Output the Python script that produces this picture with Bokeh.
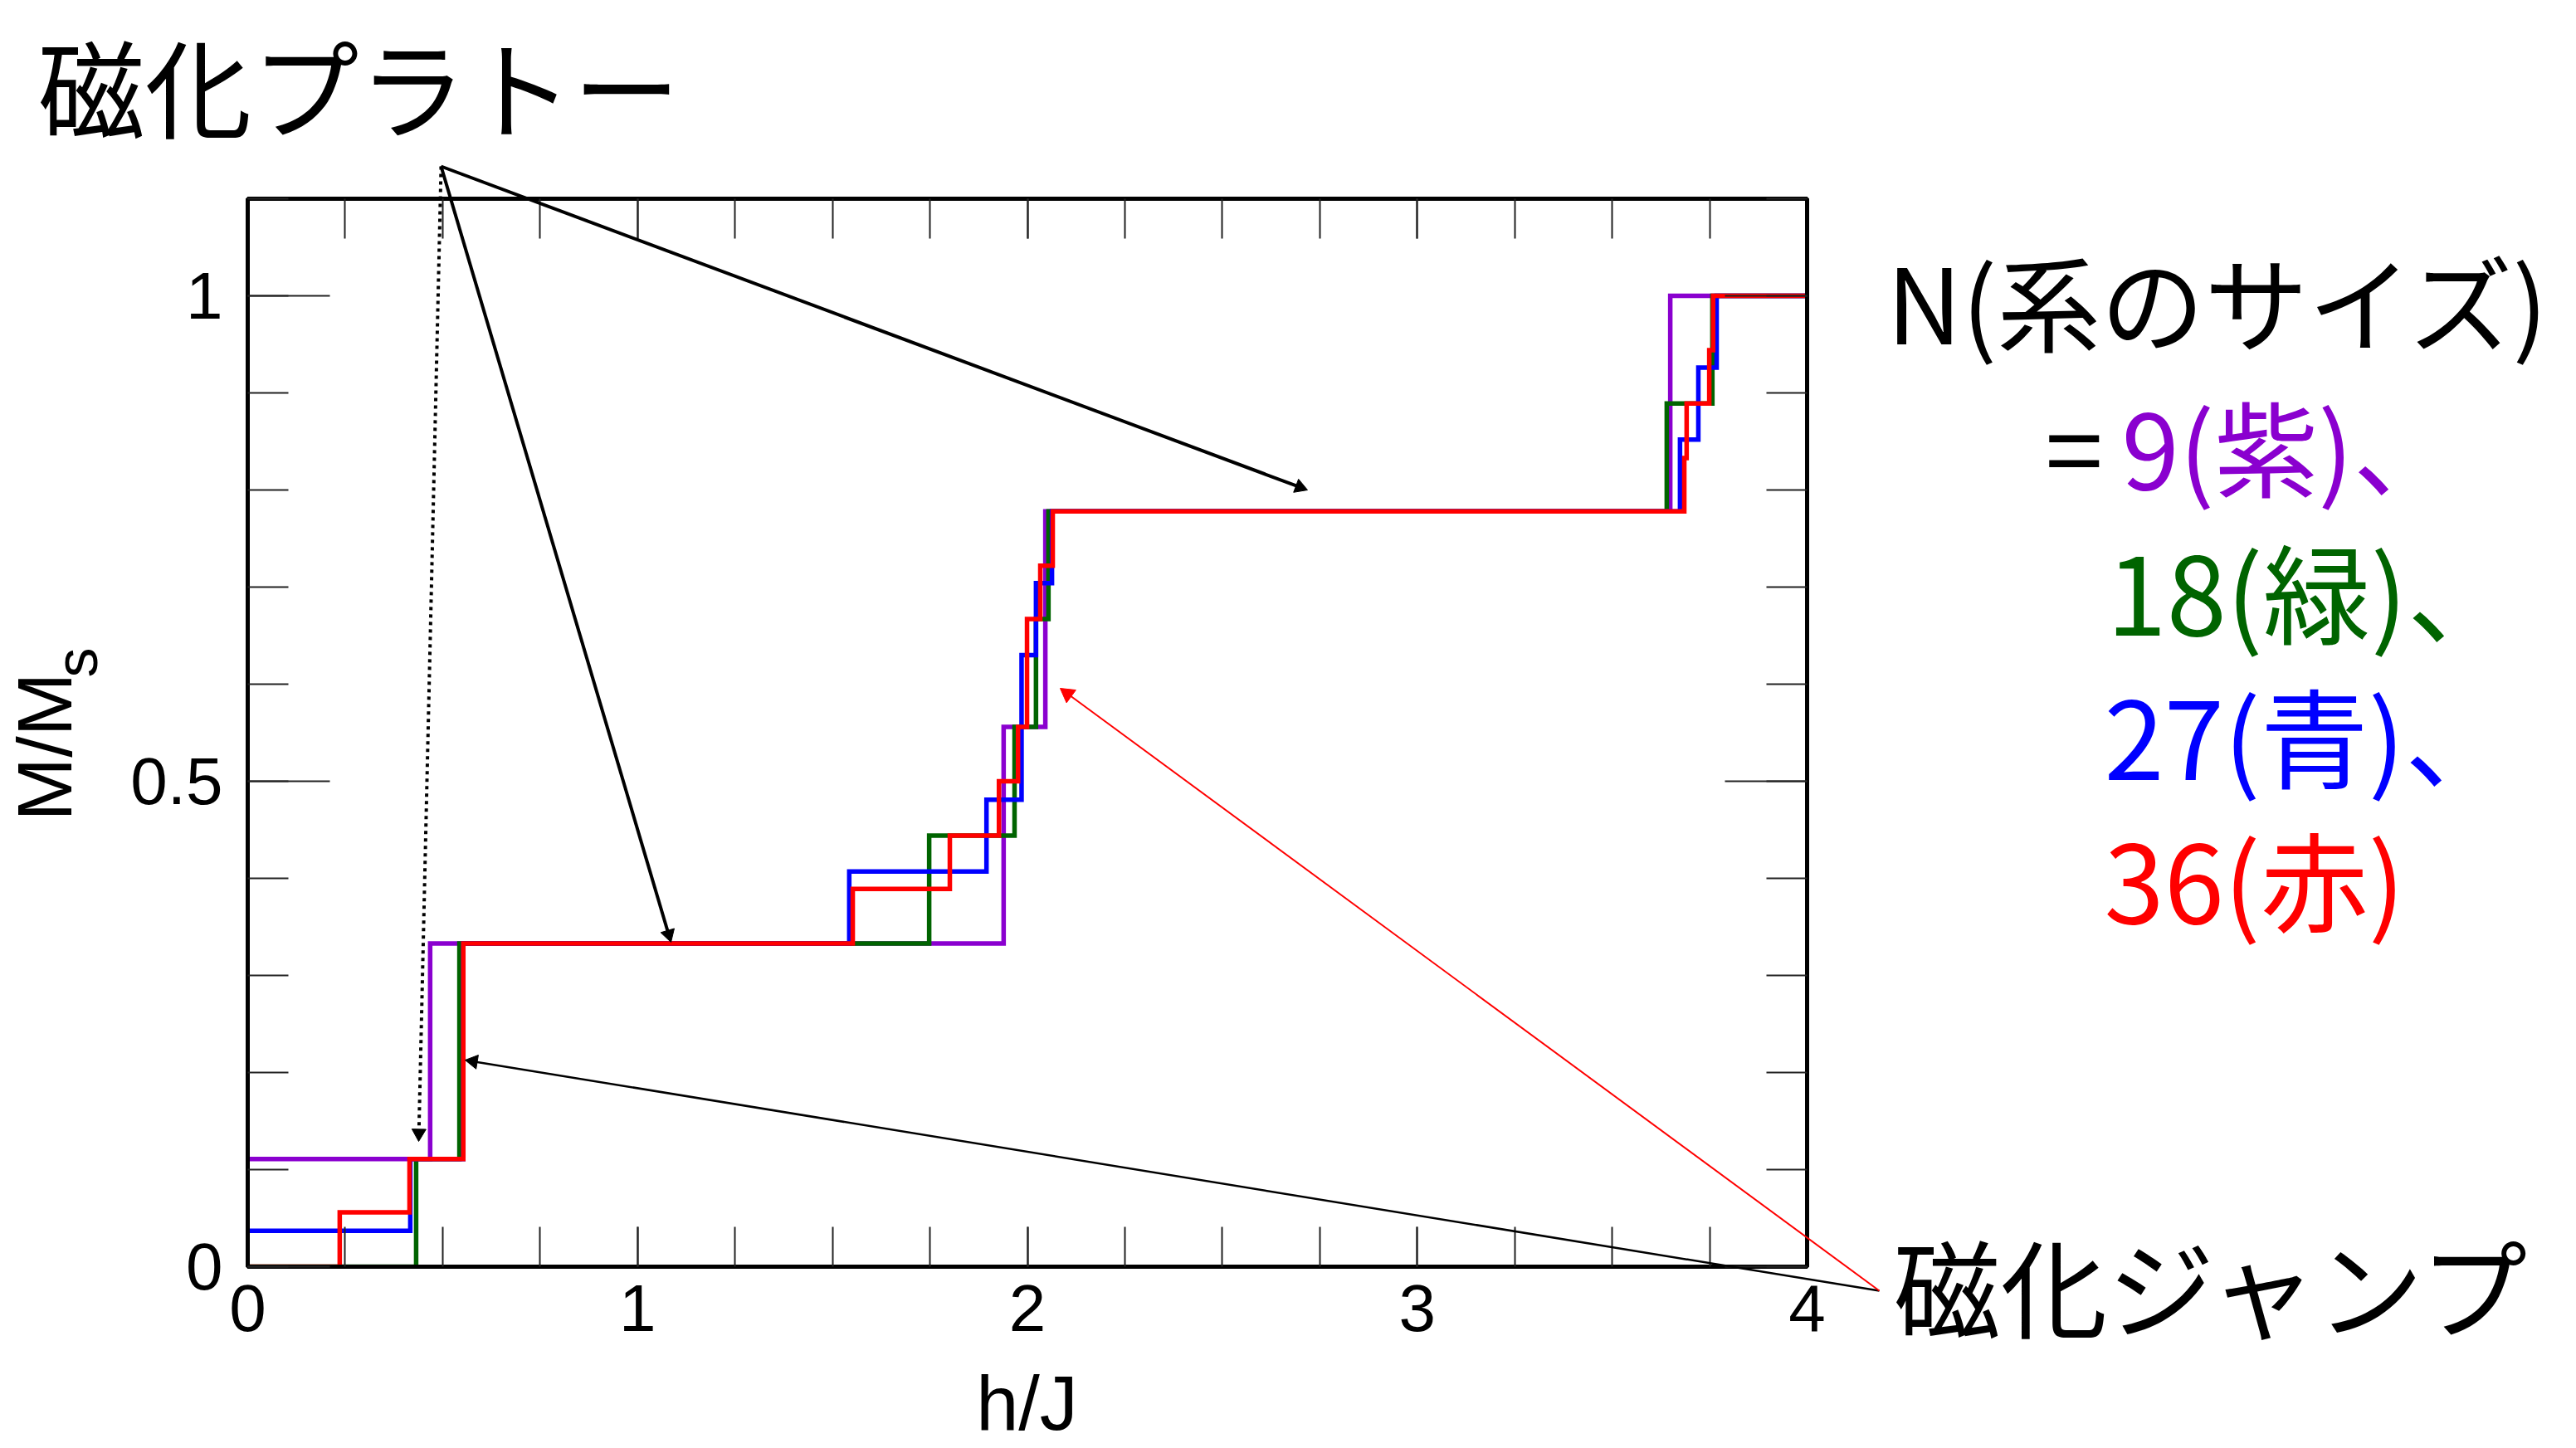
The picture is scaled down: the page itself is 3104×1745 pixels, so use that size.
import math
from bokeh.plotting import figure
from bokeh.models import Range1d, FixedTicker, LinearAxis, CustomJSTickFormatter
from bokeh.core.properties import value
from bokeh.embed import file_html
from bokeh.resources import INLINE

# ---- data: magnetization curves M/Ms vs h/J (step, value held after each h) ----
h_n9 = [0.0, 0.468, 1.939, 2.046, 3.649, 4.0]
m_n9 = [0.111, 0.333, 0.556, 0.778, 1.0, 1.0]

h_n18 = [0.0, 0.432, 0.543, 1.748, 1.967, 2.022, 2.054, 3.640, 3.757, 4.0]
m_n18 = [0.0, 0.111, 0.333, 0.444, 0.556, 0.667, 0.778, 0.889, 1.0, 1.0]

h_n27 = [0.0, 0.417, 0.553, 1.543, 1.895, 1.985, 2.022, 2.063, 3.674, 3.721, 3.768, 4.0]
m_n27 = [0.037, 0.111, 0.333, 0.407, 0.481, 0.630, 0.704, 0.778, 0.852, 0.926, 1.0, 1.0]

h_n36 = [0.0, 0.236, 0.415, 0.553, 1.552, 1.801, 1.927, 1.976, 1.999, 2.033, 2.065,
         3.685, 3.691, 3.749, 3.759, 4.0]
m_n36 = [0.0, 0.056, 0.111, 0.333, 0.389, 0.444, 0.500, 0.556, 0.667, 0.722, 0.778,
         0.833, 0.889, 0.944, 1.0, 1.0]

x_major = [0, 1, 2, 3, 4]
x_minor = [0, 0.25, 0.5, 0.75, 1, 1.25, 1.5, 1.75, 2, 2.25, 2.5, 2.75, 3, 3.25, 3.5, 3.75, 4]
y_major = [0, 0.5, 1]
y_minor = [0, 0.1, 0.2, 0.3, 0.4, 0.5, 0.6, 0.7, 0.8, 0.9, 1.0, 1.1]

PURPLE = "#8a00cf"
GREEN = "#006400"
BLUE = "#0000ff"
RED = "#ff0000"

TICK_FONT = "Liberation Sans"
JP_FONT = "Noto Sans CJK JP"

# ---- layout helpers (page pixel -> data coordinates) ----
W, H = 3102, 1743
FL, FR, FT, FB = 298, 2177, 239, 1526
PX_X = (FR - FL) / 4.0
PX_Y = (FB - FT) / 1.1
def X(px):
    return (px - FL) / PX_X
def Y(py):
    return (FB - py) / PX_Y

p = figure(width=W, height=H, x_range=Range1d(0, 4), y_range=Range1d(0, 1.1),
           x_axis_type=None, y_axis_type=None,
           output_backend="svg", toolbar_location=None,
           min_border_left=FL, min_border_right=W - FR,
           min_border_top=FT, min_border_bottom=H - FB)
p.outline_line_color = "black"
p.outline_line_width = 5
p.background_fill_color = "white"
p.border_fill_color = "white"

blank = CustomJSTickFormatter(code="return ''")

def style_axis(ax, major_len, minor_len, show_labels):
    ax.axis_line_width = 5
    ax.axis_line_color = "black"
    ax.major_tick_in = major_len
    ax.major_tick_out = 0
    ax.minor_tick_in = minor_len
    ax.minor_tick_out = 0
    ax.major_tick_line_width = 2
    ax.minor_tick_line_width = 2
    ax.major_tick_line_color = "#222222"
    ax.minor_tick_line_color = "#222222"
    ax.major_label_text_font = TICK_FONT
    ax.major_label_text_font_size = "80px"
    ax.major_label_text_color = "black"
    if not show_labels:
        ax.formatter = blank

xb = LinearAxis(ticker=FixedTicker(ticks=x_major, minor_ticks=x_minor))
style_axis(xb, 48, 48, True)
xb.major_label_standoff = 22
xt = LinearAxis(ticker=FixedTicker(ticks=x_major, minor_ticks=x_minor))
style_axis(xt, 48, 48, False)
yl = LinearAxis(ticker=FixedTicker(ticks=y_major, minor_ticks=y_minor))
style_axis(yl, 99, 49, True)
yl.major_label_standoff = 30
yr = LinearAxis(ticker=FixedTicker(ticks=y_major, minor_ticks=y_minor))
style_axis(yr, 99, 49, False)

p.add_layout(xb, "below")
p.add_layout(xt, "above")
p.add_layout(yl, "left")
p.add_layout(yr, "right")

# ---- curves ----
for hx, my, col in [(h_n9, m_n9, PURPLE), (h_n18, m_n18, GREEN),
                    (h_n27, m_n27, BLUE), (h_n36, m_n36, RED)]:
    p.step(hx, my, mode="after", line_color=col, line_width=5.5, line_join="miter")

# ---- texts outside the frame (drawn as unclipped glyphs) ----
def txt(s, px, py, color="black", size="125px", font=JP_FONT, align="left", angle=0.0):
    p.text(x=[X(px)], y=[Y(py)], text=[s], text_font=value(font),
           text_font_size=value(size), text_color=color, text_align=align,
           text_baseline="middle", angle=angle, level="annotation")

txt("h/J", 1237, 1690, size="92px", font=TICK_FONT, align="center")
txt("M/M", 53, 989, size="92px", font=TICK_FONT, angle=math.pi / 2)
txt("s", 91, 816, size="72px", font=TICK_FONT, angle=math.pi / 2)

txt("磁化プラトー", 45, 101, size="129px")
txt("磁化ジャンプ", 2281, 1547, size="129px")
txt("N(系のサイズ)", 2273, 360)
txt("=", 2464, 535)
txt("9(紫)、", 2556, 535, PURPLE)
txt("18(緑)、", 2538, 708, GREEN, size="130px")
txt("27(青)、", 2535, 882, BLUE, size="130px")
txt("36(赤)", 2535, 1055, RED, size="130px")

# ---- arrows: shaft + triangular head ----
def arrow(x0, y0, x1, y1, color="black", width=4.0, dash="solid", head=17):
    dx, dy = x1 - x0, -(y1 - y0)
    L = math.hypot(dx, dy)
    ux, uy = dx / L, dy / L
    back = head / math.sqrt(3.0)
    cx, cy = x1 - ux * back, y1 + uy * back
    p.segment(x0=[X(x0)], y0=[Y(y0)], x1=[X(x1 - ux * head * 0.6)], y1=[Y(y1 + uy * head * 0.6)],
              line_color=color, line_width=width, line_dash=dash, level="annotation")
    p.scatter(x=[X(cx)], y=[Y(cy)], marker="triangle", size=head,
              angle=math.atan2(dy, dx) - math.pi / 2, fill_color=color,
              line_color=color, line_width=1, level="annotation")

arrow(531, 200, 1575, 590)
arrow(531, 200, 808, 1135)
arrow(531, 200, 504, 1375, dash="4 5")
arrow(2264, 1555, 560, 1277, width=2.5)
arrow(2264, 1555, 1277, 829, color=RED, width=2, head=19)

open("out.html", "w").write(file_html(p, INLINE))
